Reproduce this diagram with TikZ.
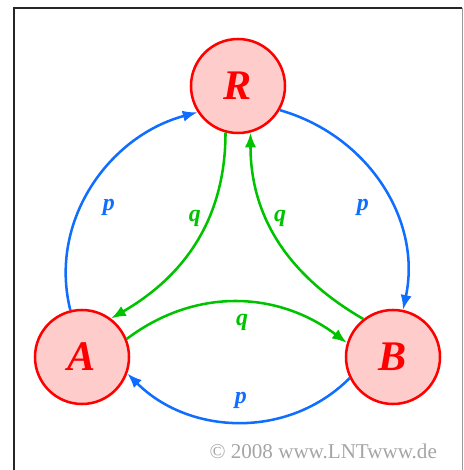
\documentclass[tikz,border=0pt]{standalone}
\usepackage{fontspec}
\setmainfont{Liberation Serif}
\usetikzlibrary{arrows.meta}
\usepackage{xcolor}

\definecolor{stateRed}{RGB}{255,0,0}
\definecolor{stateFill}{RGB}{255,204,204}
\definecolor{pBlue}{RGB}{15,110,255}
\definecolor{qGreen}{RGB}{0,195,0}
\definecolor{copyGray}{RGB}{165,165,165}

\begin{document}
\begin{tikzpicture}[
    state/.style={draw=stateRed, fill=stateFill, circle, line width=1.8pt, minimum size=2.35cm, inner sep=0pt, text=stateRed, font=\fontsize{30}{30}\selectfont\bfseries\itshape},
    parr/.style={-{Latex[length=10.5pt,width=8pt]}, line width=1.8pt, draw=pBlue},
    qarr/.style={-{Latex[length=10.5pt,width=8pt]}, line width=1.8pt, draw=qGreen},
    plab/.style={text=pBlue, font=\fontsize{17}{17}\selectfont\bfseries\itshape},
    qlab/.style={text=qGreen, font=\fontsize{17}{17}\selectfont\bfseries\itshape}
]
    \useasboundingbox (0,0) rectangle (11.575,11.75);

    % frame
    \draw[line width=1.3pt, black!85] (0.35,0) -- (0.35,11.56) -- (11.55,11.56);
    \draw[line width=0.6pt, black!40] (11.55,11.56) -- (11.55,0);

    % states
    \node[state] (R) at (5.95,9.6) {R};
    \node[state] (A) at (2.05,2.825) {A};
    \node[state] (B) at (9.825,2.825) {B};

    % transitions with probability p
    \draw[parr] (A.104) to[out=104, in=195] (R.213);
    \draw[parr] (R.-30) to[out=-16, in=78] (B.78);
    \draw[parr] (B.206) to[out=-135, in=-45] (A.-20);

    % transitions with probability q
    \draw[qarr] (R.255) to[out=-90, in=30] (A.53);
    \draw[qarr] (B.128) to[out=150, in=-90] (R.285);
    \draw[qarr] (A.22) to[out=37, in=143] (B.163);

    % labels
    \node[plab] (pAR) at (2.72,6.57) {p};
    \node[plab] (pRB) at (9.07,6.57) {p};
    \node[plab] (pBA) at (6.02,1.75) {p};
    \node[qlab] (qRA) at (4.87,6.28) {q};
    \node[qlab] (qBR) at (7.0,6.28) {q};
    \node[qlab] (qAB) at (6.05,3.68) {q};

    \node[text=copyGray, font=\fontsize{15}{15}\selectfont] (copy) at (8.08,0.47) {© 2008 www.LNTwww.de};
\end{tikzpicture}
\end{document}
